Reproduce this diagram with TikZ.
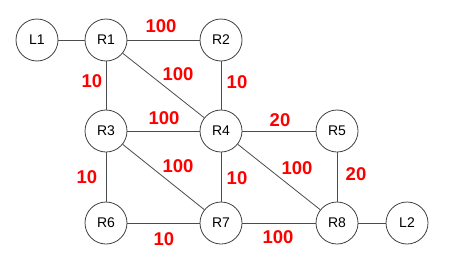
\documentclass[tikz,border=0pt]{standalone}
\usepackage{fontspec}
\setmainfont{Liberation Sans}
\usepackage{tikz}

\begin{document}
\begin{tikzpicture}[x=1pt,y=-1pt,
    router/.style={circle, draw=black!75, line width=0.8pt, minimum size=42pt, inner sep=0pt, font=\fontsize{14}{16}\selectfont},
    link/.style={draw=black!70, line width=0.8pt},
    cost/.style={text=red, font=\fontsize{18.5}{20}\selectfont\bfseries, inner sep=0pt}]
                \useasboundingbox (0,0) rectangle (460,268);
                % Nodes
                \node[router] (L1) at (37,40) {L1};
                \node[router] (R1) at (106,40) {R1};
                \node[router] (R2) at (221,40) {R2};
                \node[router] (R3) at (106,131) {R3};
                \node[router] (R4) at (221,131) {R4};
                \node[router] (R5) at (337,131) {R5};
                \node[router] (R6) at (106,223) {R6};
                \node[router] (R7) at (221,223) {R7};
                \node[router] (R8) at (337,223) {R8};
                \node[router] (L2) at (407,223) {L2};

                % Edges
                \draw[link] (L1)--(R1);
                \draw[link] (R1)--(R2);
                \draw[link] (R1)--(R3);
                \draw[link] (R1)--(R4);
                \draw[link] (R2)--(R4);
                \draw[link] (R3)--(R4);
                \draw[link] (R4)--(R5);
                \draw[link] (R3)--(R6);
                \draw[link] (R3)--(R7);
                \draw[link] (R4)--(R7);
                \draw[link] (R4)--(R8);
                \draw[link] (R5)--(R8);
                \draw[link] (R6)--(R7);
                \draw[link] (R7)--(R8);
                \draw[link] (R8)--(L2);

                % Costs
                \node[cost] (c12) at (161,26) {100};
                \node[cost] (c13) at (92,81) {10};
                \node[cost] (c14) at (178,74) {100};
                \node[cost] (c24) at (237,82) {10};
                \node[cost] (c34) at (164,118) {100};
                \node[cost] (c45) at (280,120) {20};
                \node[cost] (c36) at (87,177) {10};
                \node[cost] (c37) at (178,166) {100};
                \node[cost] (c47) at (237,178) {10};
                \node[cost] (c48) at (297,168) {100};
                \node[cost] (c58) at (356,174) {20};
                \node[cost] (c67) at (164,239) {10};
                \node[cost] (c78) at (278,237) {100};
            \end{tikzpicture}
\end{document}
